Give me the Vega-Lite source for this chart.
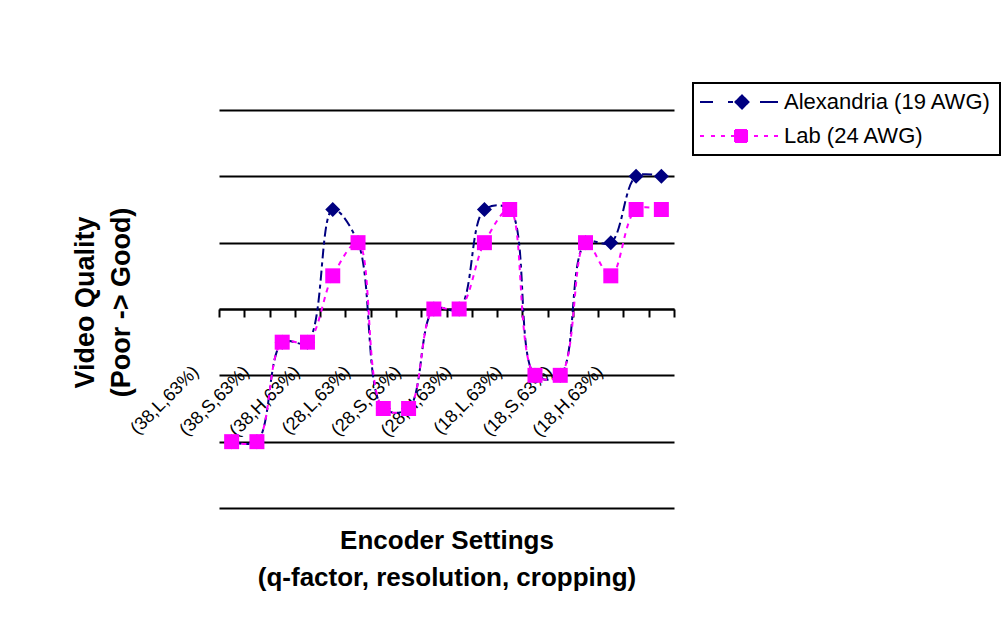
{
  "$schema": "https://vega.github.io/schema/vega-lite/v6.json",
  "width": 455,
  "height": 398,
  "autosize": {"type": "none"},
  "padding": {"left": 219, "top": 110, "right": 329, "bottom": 119},
  "background": "white",
  "config": {"view": {"stroke": null}, "font": "Liberation Sans"},
  "data": {
    "values": [
      {"series": "Alexandria (19 AWG)", "setting": "(38,L,63%)", "quality": 1},
      {"series": "Alexandria (19 AWG)", "setting": "(38,L,100%)", "quality": 1},
      {"series": "Alexandria (19 AWG)", "setting": "(38,S,63%)", "quality": 2.5},
      {"series": "Alexandria (19 AWG)", "setting": "(38,S,100%)", "quality": 2.5},
      {"series": "Alexandria (19 AWG)", "setting": "(38,H,63%)", "quality": 4.5},
      {"series": "Alexandria (19 AWG)", "setting": "(38,H,100%)", "quality": 4},
      {"series": "Alexandria (19 AWG)", "setting": "(28,L,63%)", "quality": 1.5},
      {"series": "Alexandria (19 AWG)", "setting": "(28,L,100%)", "quality": 1.5},
      {"series": "Alexandria (19 AWG)", "setting": "(28,S,63%)", "quality": 3},
      {"series": "Alexandria (19 AWG)", "setting": "(28,S,100%)", "quality": 3},
      {"series": "Alexandria (19 AWG)", "setting": "(28,H,63%)", "quality": 4.5},
      {"series": "Alexandria (19 AWG)", "setting": "(28,H,100%)", "quality": 4.5},
      {"series": "Alexandria (19 AWG)", "setting": "(18,L,63%)", "quality": 2},
      {"series": "Alexandria (19 AWG)", "setting": "(18,L,100%)", "quality": 2},
      {"series": "Alexandria (19 AWG)", "setting": "(18,S,63%)", "quality": 4},
      {"series": "Alexandria (19 AWG)", "setting": "(18,S,100%)", "quality": 4},
      {"series": "Alexandria (19 AWG)", "setting": "(18,H,63%)", "quality": 5},
      {"series": "Alexandria (19 AWG)", "setting": "(18,H,100%)", "quality": 5},
      {"series": "Lab (24 AWG)", "setting": "(38,L,63%)", "quality": 1},
      {"series": "Lab (24 AWG)", "setting": "(38,L,100%)", "quality": 1},
      {"series": "Lab (24 AWG)", "setting": "(38,S,63%)", "quality": 2.5},
      {"series": "Lab (24 AWG)", "setting": "(38,S,100%)", "quality": 2.5},
      {"series": "Lab (24 AWG)", "setting": "(38,H,63%)", "quality": 3.5},
      {"series": "Lab (24 AWG)", "setting": "(38,H,100%)", "quality": 4},
      {"series": "Lab (24 AWG)", "setting": "(28,L,63%)", "quality": 1.5},
      {"series": "Lab (24 AWG)", "setting": "(28,L,100%)", "quality": 1.5},
      {"series": "Lab (24 AWG)", "setting": "(28,S,63%)", "quality": 3},
      {"series": "Lab (24 AWG)", "setting": "(28,S,100%)", "quality": 3},
      {"series": "Lab (24 AWG)", "setting": "(28,H,63%)", "quality": 4},
      {"series": "Lab (24 AWG)", "setting": "(28,H,100%)", "quality": 4.5},
      {"series": "Lab (24 AWG)", "setting": "(18,L,63%)", "quality": 2},
      {"series": "Lab (24 AWG)", "setting": "(18,L,100%)", "quality": 2},
      {"series": "Lab (24 AWG)", "setting": "(18,S,63%)", "quality": 4},
      {"series": "Lab (24 AWG)", "setting": "(18,S,100%)", "quality": 3.5},
      {"series": "Lab (24 AWG)", "setting": "(18,H,63%)", "quality": 4.5},
      {"series": "Lab (24 AWG)", "setting": "(18,H,100%)", "quality": 4.5}
    ]
  },
  "encoding": {
    "x": {
      "field": "setting",
      "type": "nominal",
      "sort": null,
      "scale": {"type": "band", "paddingInner": 0, "paddingOuter": 0},
      "axis": {
        "title": ["Encoder Settings", "(q-factor, resolution, cropping)"],
        "offset": -199,
        "grid": false,
        "tickBand": "extent",
        "domainColor": "black",
        "domainWidth": 2,
        "tickColor": "black",
        "tickWidth": 2,
        "tickSize": 8,
        "labelAngle": -45,
        "labelAlign": "right",
        "labelBaseline": "middle",
        "labelOffset": -36,
        "labelPadding": 52,
        "labelFontSize": 18,
        "labelColor": "black",
        "labelOverlap": false,
        "labelBound": false,
        "labelFlush": false,
        "labelExpr": "isString(datum.value) && indexof(datum.value, '63%') >= 0 ? datum.value : ''",
        "titleFontSize": 26,
        "titleFontWeight": "bold",
        "titleColor": "black",
        "titleLineHeight": 37,
        "titleBaseline": "alphabetic",
        "titleY": 239
      }
    },
    "y": {
      "field": "quality",
      "type": "quantitative",
      "scale": {"domain": [0, 6], "nice": false, "zero": true},
      "axis": {
        "title": ["Video Quality", "(Poor -> Good)"],
        "values": [0, 1, 2, 3, 4, 5, 6],
        "domain": false,
        "ticks": false,
        "labels": false,
        "grid": true,
        "gridColor": "black",
        "gridWidth": 2,
        "gridOpacity": 1,
        "titleFontSize": 27,
        "titleFontWeight": "bold",
        "titleColor": "black",
        "titleAngle": 270,
        "titleAlign": "center",
        "titleBaseline": "alphabetic",
        "titleLineHeight": 36,
        "titleX": -126,
        "titleY": 192
      }
    },
    "color": {
      "field": "series",
      "type": "nominal",
      "scale": {"domain": ["Alexandria (19 AWG)", "Lab (24 AWG)"], "range": ["#000080", "#FF00FF"]},
      "legend": {
        "orient": "none",
        "legendX": 474,
        "legendY": -27,
        "title": null,
        "padding": 8,
        "strokeColor": "black",
        "symbolSize": 225,
        "symbolStrokeWidth": 2,
        "labelFontSize": 22,
        "labelColor": "black",
        "labelOffset": 61,
        "labelLimit": 400,
        "rowPadding": 12,
        "encode": {
          "legend": {"update": {"strokeWidth": {"value": 2}}},
          "symbols": {
            "update": {
              "shape": {"signal": "datum.value === 'Alexandria (19 AWG)' ? 'M-1.6,0H0.13M2.13,0H2.8M6.4,0H8.8M4,-0.87L4.87,0L4,0.87L3.13,0Z' : 'M-1.6,0H-1.07M-0.13,0H0.4M1.2,0H1.73M2.53,0H2.93M5.6,0H6.13M6.93,0H7.47M8.27,0H8.8M3.07,-0.8H4.67V0.8H3.07Z'"},
              "fill": {"scale": "color", "field": "value"},
              "stroke": {"scale": "color", "field": "value"},
              "strokeDash": {"value": [1, 0]},
              "strokeWidth": {"value": 2},
              "opacity": {"value": 1}
            }
          }
        }
      }
    }
  },
  "layer": [
    {
      "transform": [{"filter": "datum.series === 'Alexandria (19 AWG)'"}],
      "mark": {"type": "line", "interpolate": "catmull-rom", "strokeWidth": 2, "strokeDash": [10, 4, 4, 4]}
    },
    {
      "transform": [{"filter": "datum.series === 'Alexandria (19 AWG)'"}],
      "mark": {"type": "point", "shape": "diamond", "filled": true, "opacity": 1, "size": 225}
    },
    {
      "transform": [{"filter": "datum.series === 'Lab (24 AWG)'"}],
      "mark": {"type": "line", "interpolate": "catmull-rom", "strokeWidth": 2, "strokeDash": [5, 5]}
    },
    {
      "transform": [{"filter": "datum.series === 'Lab (24 AWG)'"}],
      "mark": {"type": "point", "shape": "square", "filled": true, "opacity": 1, "size": 225}
    }
  ]
}
